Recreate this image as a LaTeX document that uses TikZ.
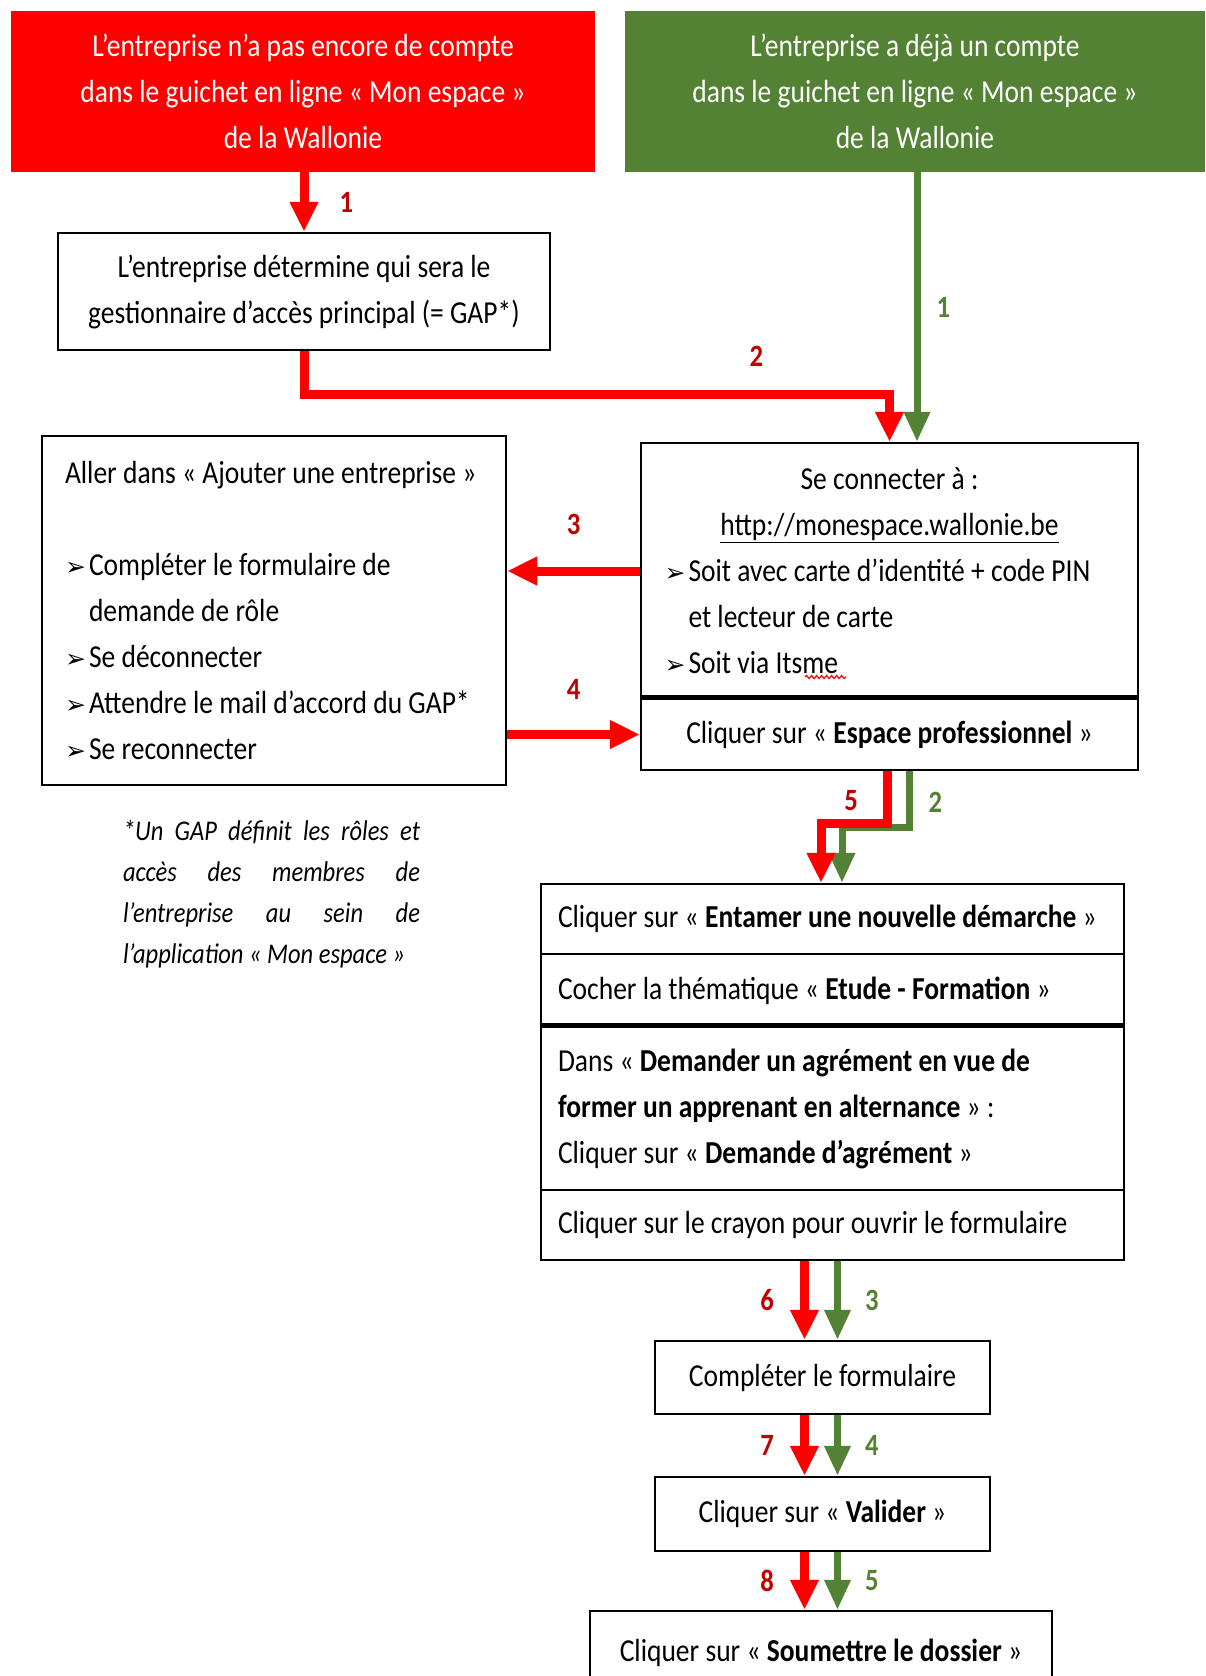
\documentclass[tikz,border=0pt]{standalone}
\usepackage{fontspec}
\setmainfont{Carlito}[FakeStretch=0.86]
\newfontfamily\puces{DejaVu Sans}
\usetikzlibrary{arrows.meta,positioning,decorations.pathmorphing}

\definecolor{rouge}{RGB}{255,0,0}
\definecolor{vert}{RGB}{84,130,53}
\definecolor{rougefonce}{RGB}{192,0,0}

\newcommand{\puce}{\makebox[24pt][l]{\puces\fontsize{25}{25}\selectfont ➢}}

\tikzset{
  boite/.style={draw=black, line width=2.5pt, inner sep=0pt, align=center},
  titre/.style={inner sep=0pt, align=center, text=white, minimum height=161pt},
  flecherouge/.style={draw=rouge, line width=9pt, -{Triangle[length=30pt,width=27pt]}},
  flecheverte/.style={draw=vert, line width=7pt, -{Triangle[length=30pt,width=25pt]}},
  numrouge/.style={inner sep=0pt, text=rougefonce, font=\fontsize{31}{31}\selectfont\bfseries},
  numvert/.style={inner sep=0pt, text=vert, font=\fontsize{31}{31}\selectfont\bfseries},
  note/.style={inner sep=0pt, text width=297pt, align=justify, font=\fontsize{28.5}{41}\selectfont\itshape}
}

\begin{document}
\fontsize{32}{46}\selectfont
\begin{tikzpicture}[x=1pt,y=-1pt]
  \useasboundingbox (0,0) rectangle (1205,1676);

  \node[titre, fill=rouge, minimum width=584pt] (sansCompte) at (303,91.5)
    {L’entreprise n’a pas encore de compte\\dans le guichet en ligne «~Mon espace~»\\de la Wallonie};
  \node[titre, fill=vert, minimum width=580pt] (avecCompte) at (915,91.5)
    {L’entreprise a déjà un compte\\dans le guichet en ligne «~Mon espace~»\\de la Wallonie};

  \node[boite, minimum width=492pt, minimum height=117pt] (gap) at (304,291.5)
    {L’entreprise détermine qui sera le\\gestionnaire d’accès principal (= GAP*)};

  \node[boite, minimum width=464pt, minimum height=349pt, text width=418pt, align=flush left] (ajouter) at (274,610.5)
    {Aller dans «~Ajouter une entreprise~»\\[46pt]
     \puce Compléter le formulaire de\\
     \hspace*{24pt}demande de rôle\\
     \puce Se déconnecter\\
     \puce Attendre le mail d’accord du GAP*\\
     \puce Se reconnecter};

  \node[boite, minimum width=497pt, minimum height=256pt] (conn) at (889.5,571)
    {Se connecter à :\\
     \underline{http://monespace.wallonie.be}\\
     \makebox[450pt][l]{\puce Soit avec carte d’identité + code PIN}\\
     \makebox[450pt][l]{\hspace*{24pt}et lecteur de carte}\\
     \makebox[450pt][l]{\puce Soit via Itsme}};
  \draw[red, line width=1.2pt, decorate, decoration={snake, amplitude=1.5pt, segment length=5pt}] (805,677) -- (846,677);
  \node[boite, minimum width=497pt, minimum height=71pt] (espace) at (889.5,734.5)
    {Cliquer sur «~\textbf{Espace professionnel}~»};
  \draw[line width=5pt] (espace.north west) -- (espace.north east);

  \node[note] (renvoi) at (271.5,894)
    {*Un GAP définit les rôles et\linebreak accès des membres de\linebreak l’entreprise au sein de\linebreak l’application «~Mon espace~»};

  \node[boite, minimum width=583pt, minimum height=70pt, text width=549pt, align=flush left] (entamer) at (832.5,919)
    {Cliquer sur «~\textbf{Entamer une nouvelle démarche}~»};
  \node[boite, minimum width=583pt, minimum height=73pt, text width=549pt, align=flush left] (cocher) at (832.5,990.5)
    {Cocher la thématique «~\textbf{Etude - Formation}~»};
  \node[boite, minimum width=583pt, minimum height=163pt, text width=549pt, align=flush left] (dans) at (832.5,1108.5)
    {Dans «~\textbf{Demander un agrément en vue de}\\\textbf{former un apprenant en alternance}~»~:\\Cliquer sur «~\textbf{Demande d’agrément}~»};
  \node[boite, minimum width=583pt, minimum height=70pt, text width=549pt, align=flush left] (crayon) at (832.5,1225)
    {Cliquer sur le crayon pour ouvrir le formulaire};
  \draw[line width=5pt] (dans.north west) -- (dans.north east);

  \node[boite, minimum width=335pt, minimum height=73pt] (completer) at (822.5,1377.5) {Compléter le formulaire};
  \node[boite, minimum width=335pt, minimum height=74pt] (valider) at (822.5,1514) {Cliquer sur «~\textbf{Valider}~»};
  \node[boite, minimum width=462pt, minimum height=84pt] (soumettre) at (821,1653) {Cliquer sur «~\textbf{Soumettre le dossier}~»};

  \coordinate (vx) at (917,0);
  \coordinate (coude) at (600,394);
  \coordinate (r5) at (0,823);
  \coordinate (g2) at (0,827);

  \draw[flecherouge] (gap.north |- sansCompte.south) -- (gap.north) node[numrouge, midway, right=31pt] {1};
  \draw[flecheverte] (avecCompte.south -| vx) -- (conn.north -| vx) node[numvert, midway, right=16pt] {1};
  \draw[flecherouge] (gap.south) |- (coude) -| node[numrouge, pos=0.27, above=23pt] {2} (conn.north);

  \draw[flecherouge] (conn.west) -- (conn.west -| ajouter.east) node[numrouge, midway, above=32pt] {3};
  \draw[flecherouge] (ajouter.east |- espace.west) -- (espace.west) node[numrouge, midway, above=31pt] {4};

  \draw[flecheverte] ([xshift=19.5pt]espace.south) |- node[numvert, pos=0.28, right=16pt] {2} ([xshift=9.5pt]entamer.north |- g2) -- ([xshift=9.5pt]entamer.north);
  \draw[flecherouge] ([xshift=-2pt]espace.south) |- node[numrouge, pos=0.28, left=25pt] {5} ([xshift=-11.5pt]entamer.north |- r5) -- ([xshift=-11.5pt]entamer.north);

  \draw[flecherouge] ([xshift=-18pt]completer.north |- crayon.south) -- ([xshift=-18pt]completer.north) node[numrouge, midway, left=26pt] {6};
  \draw[flecheverte] ([xshift=15pt]completer.north |- crayon.south) -- ([xshift=15pt]completer.north) node[numvert, midway, right=24pt] {3};
  \draw[flecherouge] ([xshift=-18pt]completer.south) -- ([xshift=-18pt]valider.north) node[numrouge, midway, left=26pt] {7};
  \draw[flecheverte] ([xshift=15pt]completer.south) -- ([xshift=15pt]valider.north) node[numvert, midway, right=24pt] {4};
  \draw[flecherouge] ([xshift=-18pt]valider.south) -- ([xshift=-18pt]valider.south |- soumettre.north) node[numrouge, midway, left=26pt] {8};
  \draw[flecheverte] ([xshift=15pt]valider.south) -- ([xshift=15pt]valider.south |- soumettre.north) node[numvert, midway, right=24pt] {5};
\end{tikzpicture}
\end{document}
